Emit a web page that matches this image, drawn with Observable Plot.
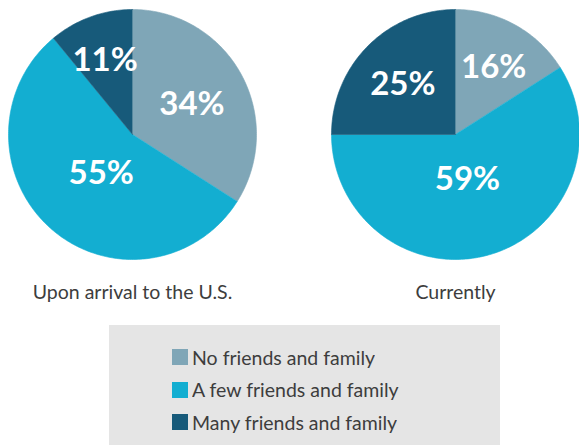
<!DOCTYPE html>
<html>
<head>
<meta charset="utf-8">
<script src="https://cdn.jsdelivr.net/npm/d3@7"></script>
<script src="https://cdn.jsdelivr.net/npm/@observablehq/plot@0.6"></script>
<style>
  html, body { margin: 0; padding: 0; background: #ffffff; overflow: hidden; }
  body { width: 579px; height: 445px; font-family: Lato, sans-serif; }
  #chart svg { display: block; }
  #legend-box {
    margin-left: 109px; width: 391px; height: 120px; box-sizing: border-box;
    background: #e5e5e5; padding: 16px 0 0 63px;
  }
  #legend-box .lg-swatches { font-family: Lato, sans-serif !important; font-size: 19.5px !important; color: #3d3d3d !important; margin: 0 !important; min-height: 0 !important; }
  #legend-box .lg-swatch { height: 32.5px; padding-bottom: 0 !important; }
  #legend-box .lg-swatch svg { margin-right: 4px !important; }
</style>
</head>
<body>
<div id="chart"></div>
<div id="legend-box"></div>
<script>
// ---- data ----
const periods = ["Upon arrival to the U.S.", "Currently"];
const categories = ["No friends and family", "A few friends and family", "Many friends and family"];
const arrivalValues = [34, 55, 11];
const currentValues = [16, 59, 25];
const colors = ["#7fa6b7", "#13aed1", "#175a7a"];

// ---- build sector polygons from the values ----
const seriesByPeriod = [arrivalValues, currentValues];
const pie = d3.pie().sort(null).value(d => d.value);
const rows = [];
periods.forEach((period, pi) => {
  const arcs = pie(categories.map((cat, i) => ({cat, value: seriesByPeriod[pi][i]})));
  for (const a of arcs) {
    const cat = a.data.cat;
    rows.push({kind: "arc", period, cat, x: 0, y: 0});
    const n = Math.max(2, Math.ceil((a.endAngle - a.startAngle) / (Math.PI / 180)));
    for (let k = 0; k <= n; ++k) {
      const t = a.startAngle + (a.endAngle - a.startAngle) * k / n;
      rows.push({kind: "arc", period, cat, x: Math.sin(t), y: Math.cos(t)});
    }
    const theta = a.endAngle - a.startAngle;
    const mid = (a.startAngle + a.endAngle) / 2;
    const dist = 4 * Math.sin(theta / 2) / (3 * theta);
    rows.push({kind: "label", period, cat, value: a.data.value, x: dist * Math.sin(mid), y: dist * Math.cos(mid)});
  }
});

const chart = Plot.plot({
  width: 579,
  height: 325,
  marginTop: 9,
  marginBottom: 66,
  marginLeft: 7.5,
  marginRight: -3,
  style: {fontFamily: "Lato, sans-serif", fontSize: "19.5px", color: "#3d3d3d", background: "white"},
  facet: {data: rows, x: "period", marginLeft: 0, marginRight: 0, marginTop: 0, marginBottom: 0},
  fx: {domain: periods, paddingInner: 0.2333, paddingOuter: 0, label: null, tickSize: 0, tickPadding: 26, axis: "bottom"},
  x: {domain: [-1, 1], axis: null},
  y: {domain: [-1, 1], axis: null},
  color: {domain: categories, range: colors},
  marks: [
    Plot.line(rows, {filter: d => d.kind === "arc", x: "x", y: "y", z: "cat", fill: "cat", stroke: "cat", strokeWidth: 0.6, curve: "linear"}),
    Plot.text(rows, {filter: d => d.kind === "label", x: "x", y: "y", dy: 3, text: d => d.value + "%", fill: "white", fontSize: 33, fontWeight: "bold", fontFamily: "Lato, sans-serif"})
  ]
});
document.getElementById("chart").appendChild(chart);

const legend = Plot.legend({
  color: {domain: categories, range: colors},
  columns: 1,
  swatchSize: 16,
  className: "lg"
});
document.getElementById("legend-box").appendChild(legend);
</script>
</body>
</html>
